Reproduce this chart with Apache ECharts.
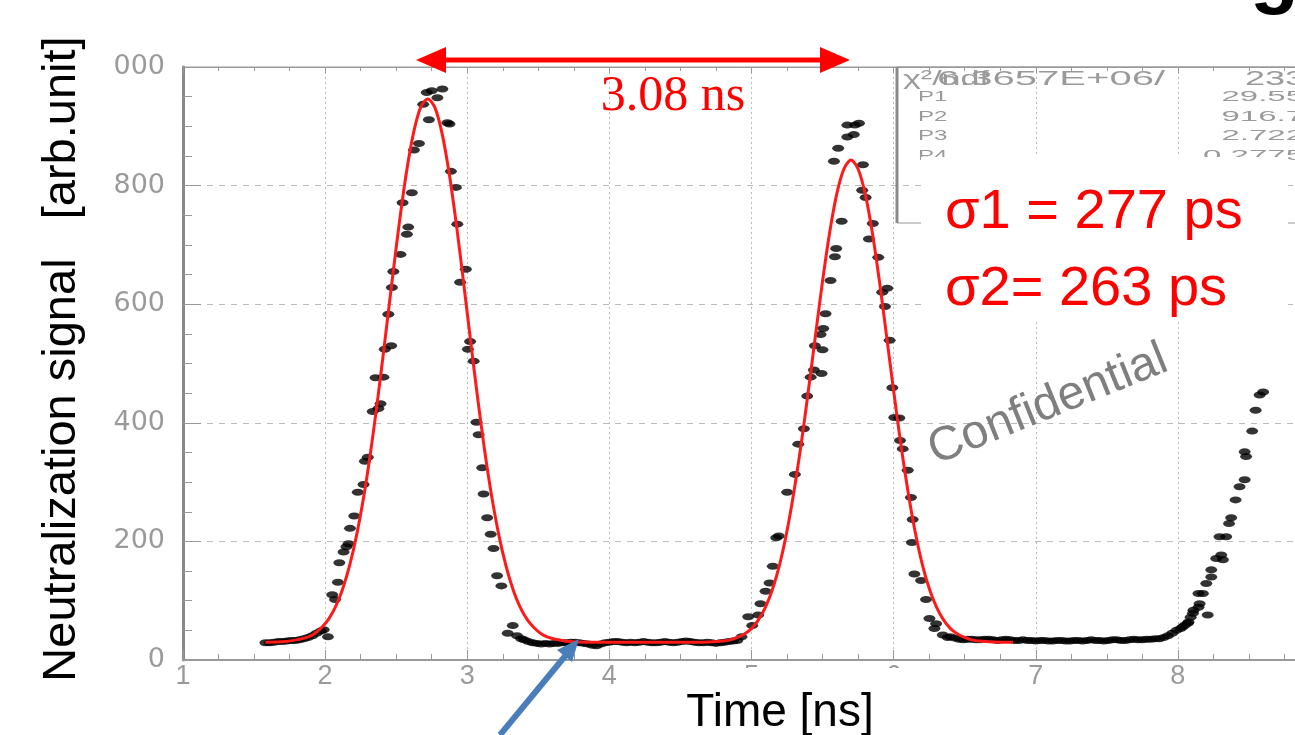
<!DOCTYPE html>
<html><head><meta charset="utf-8">
<script src="https://cdn.jsdelivr.net/npm/echarts@6/dist/echarts.min.js"></script>
<style>html,body{margin:0;padding:0;background:#fff}#c{width:1295px;height:735px}</style>
</head><body><div id="c"></div>
<script>
// ---- data ----
const xTickValues = [1,2,3,4,5,6,7,8,9];
const yTickLabels = {0:'0',200:'200',400:'400',600:'600',800:'800',1000:'1000'};

const startPts = [[1.58,29],[1.61,29],[1.64,30],[1.67,31],[1.70,31],[1.73,32],[1.76,33],[1.79,33],[1.82,34],[1.85,36],[1.88,38],[1.91,41],[1.94,45],[1.97,49]];

const peak1Pts = [[1.99,51],[2.02,39],[2.05,110],[2.07,102],[2.09,131],[2.10,164],[2.13,182],[2.15,191],[2.165,196],[2.175,222],[2.205,243],[2.23,283],[2.27,296],[2.28,335],[2.30,342],[2.335,419],[2.375,424],[2.39,432],[2.355,476],[2.41,477],[2.42,524],[2.465,530],[2.445,583],[2.47,628],[2.48,655],[2.53,684],[2.575,718],[2.585,730],[2.545,771],[2.61,788],[2.625,860],[2.66,871],[2.73,911],[2.69,937],[2.79,948],[2.715,957],[2.75,960],[2.825,963],[2.86,906],[2.875,904],[2.885,824],[2.92,797],[2.93,735],[2.99,659],[2.95,637],[3.02,537],[3.005,524],[3.045,504],[3.065,401],[3.08,380],[3.105,324],[3.115,280],[3.14,240],[3.165,212],[3.185,188],[3.21,142],[3.24,125],[3.32,58],[3.285,45],[3.35,41],[3.38,36]];

const valleyPts = [[3.40,34],[3.43,31],[3.46,29],[3.49,28],[3.52,27],[3.55,28],[3.58,27],[3.61,28],[3.64,28],[3.67,29],[3.70,29],[3.73,30],[3.76,30],[3.79,29],[3.82,28],[3.85,27],[3.88,25],[3.91,24],[3.94,27],[3.97,29],[4.00,30],[4.03,31],[4.06,31],[4.09,30],[4.12,29],[4.15,30],[4.18,29],[4.21,30],[4.24,31],[4.27,30],[4.30,29],[4.33,29],[4.36,30],[4.39,31],[4.42,30],[4.45,29],[4.48,30],[4.51,31],[4.54,32],[4.57,31],[4.60,30],[4.63,29],[4.66,29],[4.69,30],[4.72,29],[4.75,28],[4.78,29],[4.81,30],[4.84,31],[4.87,32]];

const peak2Pts = [[4.90,33],[4.93,39],[5.005,58],[4.977,73],[5.047,76],[5.063,95],[5.099,116],[5.127,130],[5.15,158],[5.174,206],[5.192,209],[5.251,283],[5.305,313],[5.329,364],[5.369,390],[5.392,445],[5.416,477],[5.439,489],[5.493,483],[5.50,523],[5.446,530],[5.486,549],[5.505,559],[5.521,584],[5.556,640],[5.587,680],[5.596,694],[5.634,740],[5.58,841],[5.61,863],[5.674,882],[5.72,886],[5.728,902],[5.674,902],[5.756,905],[5.784,835],[5.779,792],[5.803,780],[5.854,736],[5.826,710],[5.892,679],[5.955,627],[5.92,620],[5.939,596],[5.972,539],[5.991,459],[6.005,409],[6.04,408],[6.045,370],[6.064,356],[6.099,320],[6.122,274],[6.134,237],[6.129,198],[6.146,145],[6.193,134],[6.228,102],[6.252,70],[6.299,61],[6.287,53],[6.346,42],[6.381,38]];

const tailBasePts = [[6.40,39],[6.43,37],[6.46,35],[6.49,34],[6.52,35],[6.55,35],[6.58,34],[6.61,34],[6.64,35],[6.67,35],[6.70,34],[6.73,33],[6.76,34],[6.79,35],[6.82,34],[6.85,33],[6.88,33],[6.91,34],[6.94,33],[6.97,33],[7.00,32],[7.03,33],[7.06,33],[7.09,32],[7.12,32],[7.15,33],[7.18,33],[7.21,32],[7.24,32],[7.27,33],[7.30,33],[7.33,32],[7.36,33],[7.39,34],[7.42,33],[7.45,33],[7.48,32],[7.51,33],[7.54,34],[7.57,34],[7.60,33],[7.63,33],[7.66,34],[7.69,35],[7.72,34],[7.75,34],[7.78,35],[7.81,35],[7.84,36],[7.87,36],[7.90,38],[7.93,41],[7.96,45],[7.99,50]];

const rampPts = [[8.02,53],[8.035,56],[8.05,59],[8.07,62],[8.075,64],[8.09,72],[8.106,79],[8.11,84],[8.145,89],[8.153,95],[8.145,112],[8.176,112],[8.21,76],[8.2,129],[8.235,140],[8.235,152],[8.27,171],[8.317,169],[8.305,177],[8.293,208],[8.34,208],[8.36,230],[8.375,240],[8.406,270],[8.434,292],[8.47,304],[8.48,343],[8.47,351],[8.523,386],[8.547,421],[8.575,447],[8.6,452]];

const fitCurve = [[1.58,30],[1.72,31],[1.82,35],[1.872,38],[1.922,44],[1.972,54],[2.022,68],[2.072,89],[2.122,119],[2.172,159],[2.222,211],[2.272,276],[2.322,354],[2.372,444],[2.422,541],[2.472,641],[2.522,737],[2.572,822],[2.622,889],[2.672,932],[2.722,946],[2.772,932],[2.822,889],[2.872,822],[2.922,737],[2.972,641],[3.022,541],[3.072,444],[3.122,354],[3.172,276],[3.222,211],[3.272,159],[3.322,119],[3.372,89],[3.422,68],[3.472,54],[3.522,44],[3.572,38],[3.622,35],[3.722,31],[3.85,30],[4.2,30],[4.6,30],[4.70,30.5],[4.80,32],[4.85,34],[4.90,38],[4.95,44],[5.00,53],[5.05,68],[5.10,90],[5.15,121],[5.20,163],[5.25,218],[5.30,286],[5.35,365],[5.40,454],[5.45,547],[5.50,639],[5.55,721],[5.60,786],[5.65,828],[5.70,843],[5.75,828],[5.80,786],[5.85,721],[5.90,639],[5.95,547],[6.00,454],[6.05,365],[6.10,286],[6.15,218],[6.20,163],[6.25,121],[6.30,90],[6.35,68],[6.40,53],[6.45,44],[6.50,38],[6.55,34],[6.60,32],[6.70,30.5],[6.84,30]];

const statHeader = ['χ²/ndf', '6.3657E+06/', '233'];
const statNames = ['P1','P2','P3','P4'];
const statValues = ['29.55','916.7','2.722','0.2775'];
const sigmaTexts = ['σ1 = 277 ps','σ2= 263 ps'];
const spanText = '3.08 ns';

// ---- chart ----
const chart = echarts.init(document.getElementById('c'), null, {renderer:'canvas'});
const allPts = [].concat(startPts, peak1Pts, valleyPts, peak2Pts, tailBasePts, rampPts);
const gray = '#9a9a9a';
const graphics = [];
graphics.push({type:'rect', z:100, shape:{x:0,y:50,width:111,height:36}, style:{fill:'#fff'}});
graphics.push({type:'rect', z:100, shape:{x:897,y:67,width:430,height:156}, style:{fill:'none',stroke:'#999',lineWidth:1}});
graphics.push({type:'line', z:100, shape:{x1:897,y1:67,x2:897,y2:223}, style:{stroke:'#8a8a8a',lineWidth:3}});
graphics.push({type:'text', z:101, x:903, y:79, scaleX:1.7, style:{text:statHeader[0], x:0, y:0, font:'20px "Liberation Sans"', fill:gray, verticalAlign:'middle'}});
graphics.push({type:'text', z:101, x:937, y:79, scaleX:2.0, style:{text:statHeader[1], x:0, y:0, font:'20px "Liberation Sans"', fill:gray, verticalAlign:'middle'}});
graphics.push({type:'text', z:101, x:1305, y:79, scaleX:1.8, style:{text:statHeader[2], x:0, y:0, font:'20px "Liberation Sans"', fill:gray, align:'right', verticalAlign:'middle'}});
statNames.forEach((n,i)=>{
  const yy = 97 + i*19.5;
  graphics.push({type:'text', z:101, x:918, y:yy, scaleX:1.6, style:{text:n, x:0, y:0, font:'15px "Liberation Sans"', fill:gray, verticalAlign:'middle'}});
  graphics.push({type:'text', z:101, x:1304, y:yy, scaleX:2.2, style:{text:statValues[i], x:0, y:0, font:'15px "Liberation Sans"', fill:gray, align:'right', verticalAlign:'middle'}});
});
graphics.push({type:'rect', z:102, shape:{x:921,y:157,width:367,height:163}, style:{fill:'#fff'}});
graphics.push({type:'text', z:103, x:945, y:213, style:{text:sigmaTexts[0], x:0, y:0, font:'56px "Liberation Sans"', fill:'#ff0000', verticalAlign:'middle'}});
graphics.push({type:'text', z:103, x:945, y:290, style:{text:sigmaTexts[1], x:0, y:0, font:'56px "Liberation Sans"', fill:'#ff0000', verticalAlign:'middle'}});
graphics.push({type:'text', z:103, x:1048, y:405, rotation:22*Math.PI/180, style:{text:'Confidential', x:0, y:0, font:'48px "Liberation Sans"', fill:'#7f7f7f', align:'center', verticalAlign:'middle'}});
graphics.push({type:'line', z:103, shape:{x1:440,y1:60,x2:826,y2:60}, style:{stroke:'#ff0000',lineWidth:5}});
graphics.push({type:'polygon', z:103, shape:{points:[[416,60],[446,47],[446,73]]}, style:{fill:'#ff0000'}});
graphics.push({type:'polygon', z:103, shape:{points:[[850,60],[820,47],[820,73]]}, style:{fill:'#ff0000'}});
graphics.push({type:'text', z:103, x:673, y:97, style:{text:spanText, x:0, y:0, font:'50px "Liberation Serif"', fill:'#ff0000', align:'center', verticalAlign:'middle'}});
graphics.push({type:'line', z:103, shape:{x1:500,y1:735,x2:566,y2:655}, style:{stroke:'#4a7ebb',lineWidth:6}});
graphics.push({type:'polygon', z:103, shape:{points:[[579,639],[572,662],[557,650]]}, style:{fill:'#4a7ebb'}});
graphics.push({type:'rect', z:100, shape:{x:690,y:668,width:222,height:67}, style:{fill:'#fff'}});
graphics.push({type:'text', z:103, x:780, y:713, style:{text:'Time [ns]', x:0, y:0, font:'46px "Liberation Sans"', fill:'#000', align:'center', verticalAlign:'middle'}});
graphics.push({type:'text', z:103, x:62, y:359, rotation:Math.PI/2, style:{text:'Neutralization signal   [arb.unit]', x:0, y:0, font:'47px "Liberation Sans"', fill:'#000', align:'center', verticalAlign:'middle'}});
graphics.push({type:'text', z:103, x:1250, y:16, style:{text:'g', x:0, y:0, font:'bold 80px "Liberation Sans"', fill:'#000', verticalAlign:'bottom'}});

chart.setOption({
  animation:false,
  backgroundColor:'#fff',
  grid:{left:183, top:67, width:1137, height:593, show:true, borderColor:'#999', borderWidth:1, containLabel:false, outerBoundsMode:'none'},
  xAxis:[{
    type:'value', min:1, max:9, interval:1,
    axisLine:{show:true, onZero:false, lineStyle:{color:'#999', width:2}},
    axisTick:{show:true, inside:true, length:10, lineStyle:{color:'#999'}},
    minorTick:{show:true, splitNumber:4, length:6, lineStyle:{color:'#999'}},
    axisLabel:{margin:3, color:gray, fontSize:27, fontFamily:'Liberation Sans',
      formatter:v=> xTickValues.includes(v) ? String(v) : ''},
    splitLine:{show:true, lineStyle:{color:'#bbb', type:[2,3], width:1}}
  },{
    type:'value', min:1, max:9, interval:1, position:'top',
    axisLine:{show:true, onZero:false, lineStyle:{color:'#999', width:1}},
    axisTick:{show:true, inside:true, length:6, lineStyle:{color:'#999'}},
    minorTick:{show:true, splitNumber:4, length:4, lineStyle:{color:'#999'}},
    axisLabel:{show:false}, splitLine:{show:false}
  }],
  yAxis:{
    type:'value', min:0, max:1000, interval:200,
    axisLine:{show:true, lineStyle:{color:'#888', width:3}},
    axisTick:{show:true, inside:true, length:18, lineStyle:{color:'#999'}},
    minorTick:{show:true, splitNumber:4, length:9, lineStyle:{color:'#999'}},
    axisLabel:{margin:18, color:gray, fontSize:27, fontFamily:'DejaVu Sans',
      formatter:v=> yTickLabels[v] !== undefined ? yTickLabels[v] : ''},
    splitLine:{show:true, lineStyle:{color:'#bbb', type:[6,6], width:1}}
  },
  series:[{
    type:'scatter', data:allPts, symbol:'circle', symbolSize:[12,7],
    itemStyle:{color:'#000'}, z:2, silent:true
  },{
    type:'line', data:fitCurve, smooth:0.3, showSymbol:false,
    lineStyle:{color:'#ff1a1a', width:3}, z:3, silent:true
  }],
  graphic:graphics
});
</script></body></html>
